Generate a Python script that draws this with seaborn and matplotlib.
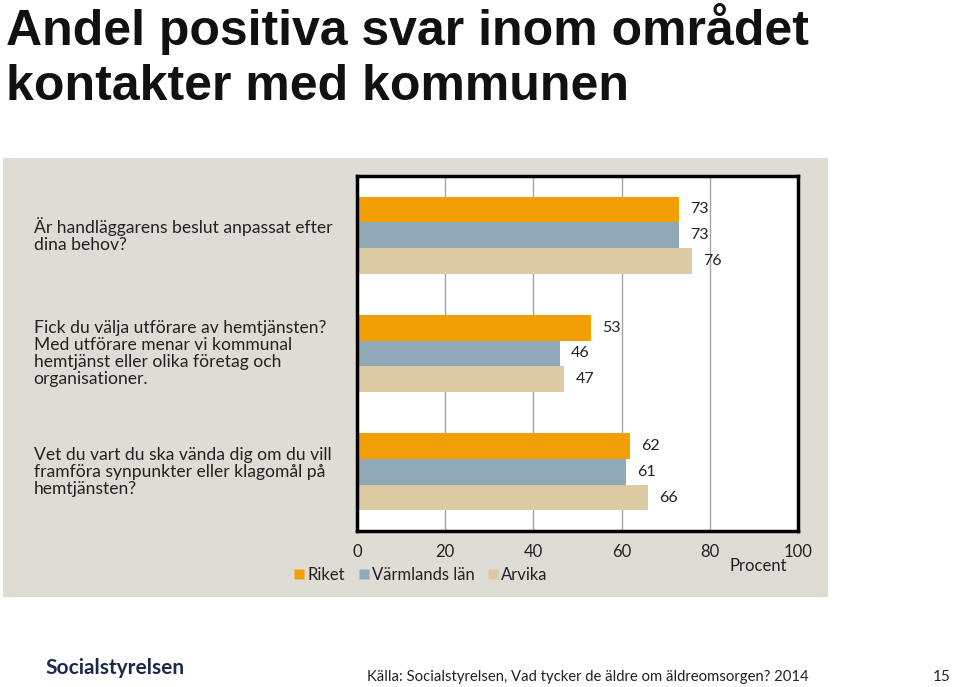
import pandas as pd
import matplotlib.pyplot as plt
import seaborn as sns
from matplotlib.patches import Rectangle
from matplotlib.lines import Line2D
import matplotlib.transforms as mtransforms

# --- Data ---
questions = [
    "Är handläggarens beslut anpassat efter\ndina behov?",
    "Fick du välja utförare av hemtjänsten?\nMed utförare menar vi kommunal\nhemtjänst eller olika företag och\norganisationer.",
    "Vet du vart du ska vända dig om du vill\nframföra synpunkter eller klagomål på\nhemtjänsten?",
]
regions = ["Riket", "Värmlands län", "Arvika"]
riket = [73, 53, 62]
varmland = [73, 46, 61]
arvika = [76, 47, 66]
colors = ["#f29f05", "#8fa9b8", "#dccaa5"]
xticks = [0, 20, 40, 60, 80, 100]

rows = []
for q, r, v, a in zip(questions, riket, varmland, arvika):
    rows += [(q, regions[0], r), (q, regions[1], v), (q, regions[2], a)]
df = pd.DataFrame(rows, columns=["question", "region", "value"])

# --- Style ---
sns.set_style("white")
plt.rcParams["font.family"] = ["Lato", "DejaVu Sans"]

fig = plt.figure(figsize=(9.6, 6.87), dpi=100)
fig.patch.set_facecolor("white")

# gray panel behind chart
panel = Rectangle((0.003, 0.131), 0.859, 0.639, transform=fig.transFigure,
                  facecolor="#dfdcd5", edgecolor="none", zorder=-5)
fig.add_artist(panel)

ax = fig.add_axes([0.372, 0.227, 0.459, 0.517])
ax.set_zorder(1)
ax.set_facecolor("white")

sns.barplot(data=df, y="question", x="value", hue="region", orient="h",
            palette=colors, width=0.65, gap=0, saturation=1, linewidth=0,
            ax=ax, legend=False)

ax.set_xlim(0, 100)
ax.set_xticks(xticks)
ax.set_xticklabels([str(t) for t in xticks], fontsize=12, color="#222222")
ax.tick_params(axis="x", length=0, pad=9)
ax.set_yticks([])
ax.set_ylabel("")
ax.set_xlabel("Procent", fontsize=12, color="#222222")
ax.xaxis.set_label_coords(0.91, -0.075)
for x in xticks[1:-1]:
    ax.axvline(x, color="#a6a6a6", linewidth=1, zorder=0)
for s in ax.spines.values():
    s.set_visible(True)
    s.set_color("black")
    s.set_linewidth(2.5)

for cont in ax.containers:
    ax.bar_label(cont, fmt="%d", padding=8, fontsize=11.5, color="#222222")

# question labels on the left
trans = mtransforms.blended_transform_factory(fig.transFigure, ax.transData)
for i, q in enumerate(questions):
    ax.text(0.035, i, q, transform=trans, ha="left", va="center",
            fontsize=12.6, color="#222222", linespacing=1.1, clip_on=False)

# legend
handles = [Line2D([], [], marker="s", linestyle="none", markersize=7,
                  markerfacecolor=c, markeredgecolor="none") for c in colors]
fig.legend(handles, regions, loc="center", bbox_to_anchor=(0.437, 0.163), ncol=3,
           frameon=False, fontsize=12, handletextpad=0.0, columnspacing=0.6,
           handlelength=1.0, labelcolor="#222222")

# title
fig.text(0.006, 0.995, "Andel positiva svar inom området\nkontakter med kommunen",
         ha="left", va="top", fontsize=36, fontweight="bold", color="#111111",
         family=["Liberation Sans", "DejaVu Sans"], linespacing=1.25)

# footer
fig.text(0.047, 0.027, "Socialstyrelsen", ha="left", va="center", fontsize=15,
         fontweight="bold", color="#1c2a4a")
fig.text(0.382, 0.015, "Källa: Socialstyrelsen, Vad tycker de äldre om äldreomsorgen? 2014",
         ha="left", va="center", fontsize=10.7, color="#222222")
fig.text(0.99, 0.015, "15", ha="right", va="center", fontsize=11, color="#222222")

plt.savefig("out.png", dpi=100)
plt.close()
